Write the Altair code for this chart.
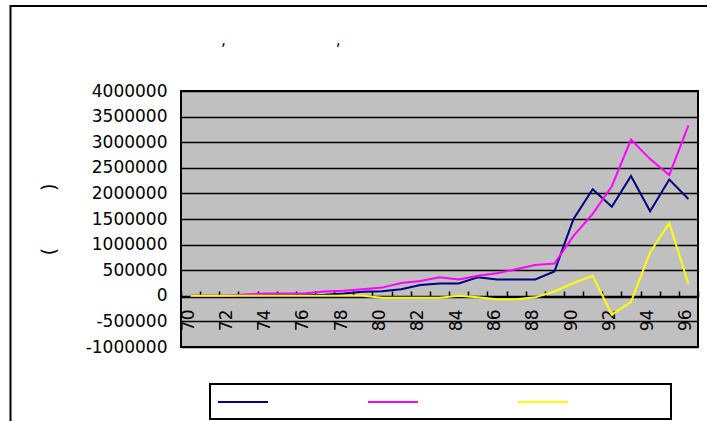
import altair as alt
import pandas as pd

# ---- data ----
years = list(range(70, 97))
series_names = ["series_navy", "series_magenta", "series_yellow"]
series_colors = ["#000080", "#FF00FF", "#FFFF00"]

navy = [0, 0, 0, 5000, 10000, 10000, 10000, 20000, 45000, 80000,
        90000, 130000, 210000, 240000, 240000, 360000, 320000, 320000, 320000, 475000,
        1500000, 2080000, 1740000, 2340000, 1650000, 2270000, 1890000]
magenta = [0, 0, 0, 30000, 45000, 45000, 50000, 85000, 100000, 130000,
           160000, 250000, 290000, 360000, 320000, 390000, 440000, 520000, 600000, 630000,
           1170000, 1600000, 2140000, 3050000, 2670000, 2360000, 3330000]
yellow = [0, 0, 0, 0, 0, 0, 0, 0, 0, 0,
          -40000, -40000, -40000, -40000, 0, -30000, -65000, -65000, -30000, 85000,
          250000, 390000, -370000, -120000, 850000, 1420000, 230000]

y_ticks = list(range(-1000000, 4000001, 500000))
x_label_years = [y for y in years if y % 2 == 0]

title_text = "," + "\u2003" * 7 + ","
y_title_text = "(" + "\u2003" * 3 + ")"

rows = []
for name, vals in zip(series_names, [navy, magenta, yellow]):
    for yr, v in zip(years, vals):
        rows.append({"year": yr, "value": v, "series": name})
df = pd.DataFrame(rows)

FONT = "DejaVu Sans"

x_scale = alt.Scale(type="band", paddingInner=0, paddingOuter=0)

# outer chart-area frame and legend box (decoration)
frame = alt.Chart(pd.DataFrame({"d": [0]})).mark_rect(
    fill="transparent", stroke="black", strokeWidth=2
).encode(x=alt.value(-170.5), x2=alt.value(546), y=alt.value(-85), y2=alt.value(350))

legend_box = alt.Chart(pd.DataFrame({"d": [0]})).mark_rect(
    fill="white", stroke="black", strokeWidth=2
).encode(x=alt.value(29), x2=alt.value(490), y=alt.value(293), y2=alt.value(328))

lines = alt.Chart(df).mark_line(strokeWidth=2).encode(
    x=alt.X("year:O", scale=x_scale, bandPosition=0.5,
            axis=alt.Axis(orient="bottom", offset=-50, values=x_label_years,
                          labelAngle=270, labelFont=FONT, labelFontSize=17,
                          labelColor="black", labelPadding=12, labelOffset=-2,
                          ticks=False,
                          domain=True, domainColor="black", domainWidth=1.5,
                          labelOverlap=False, grid=False, title=None)),
    y=alt.Y("value:Q", scale=alt.Scale(domain=[-1000000, 4000000], nice=False, zero=False),
            axis=alt.Axis(values=y_ticks, grid=True, gridColor="black", gridWidth=1.5,
                          gridOpacity=1, ticks=False, domain=False,
                          labelFont=FONT, labelFontSize=17, labelColor="black",
                          labelPadding=14,
                          labelExpr="datum.value < 0 ? '-' + format(-datum.value, 'd') : format(datum.value, 'd')",
                          title=y_title_text, titleAngle=90, titleX=-133, titleY=128,
                          titleAlign="center", titleBaseline="middle",
                          titleFont=FONT, titleFontSize=19, titleFontWeight="normal",
                          titleColor="black")),
    color=alt.Color("series:N", sort=series_names,
                    scale=alt.Scale(domain=series_names, range=series_colors),
                    legend=alt.Legend(orient="none", legendX=36, legendY=285,
                                      direction="horizontal", title=None,
                                      symbolType="stroke", symbolSize=2500,
                                      symbolStrokeWidth=2, labelExpr="''",
                                      labelOffset=0, columnPadding=92, padding=0)),
    order=alt.Order("year:O"),
)

ticks_layer = alt.Chart(pd.DataFrame({"year": years})).mark_point(opacity=0).encode(
    x=alt.X("year:O", scale=x_scale, bandPosition=0.5,
            axis=alt.Axis(orient="top", offset=-206, tickBand="extent", ticks=True,
                          tickSize=6, tickWidth=1.5, tickColor="black",
                          labels=False, domain=False, grid=False, title=None)),
)

chart = alt.layer(frame, legend_box, lines, ticks_layer).resolve_axis(
    x="independent"
).properties(
    width=517, height=256,
    padding={"left": 181, "top": 91, "right": 9, "bottom": 74},
    autosize=alt.AutoSizeParams(type="none"),
    background="white",
    title=alt.TitleParams(text=title_text, anchor="start", frame="group",
                          font=FONT, fontSize=15.7, fontWeight="normal",
                          color="black", dx=40, offset=0, dy=56, baseline="alphabetic"),
).configure_view(
    fill="#C0C0C0", stroke="black", strokeWidth=2
)

chart.save("out.html", embed_options={"renderer": "svg", "actions": False})
